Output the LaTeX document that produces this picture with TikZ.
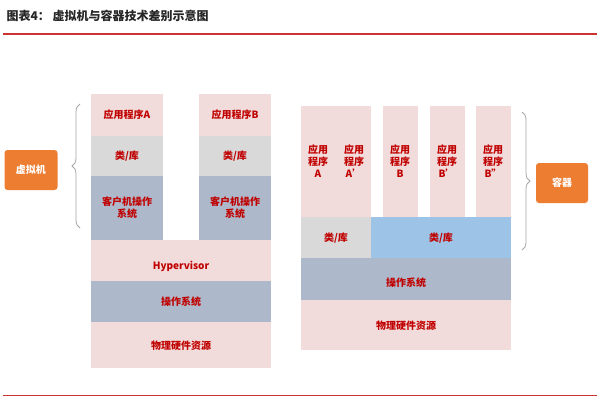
\documentclass[tikz,border=0pt]{standalone}
\usepackage{fontspec}
\setmainfont{Noto Sans CJK SC}
\usetikzlibrary{decorations.pathreplacing}
\definecolor{pk}{HTML}{F2DCDB}
\definecolor{gy}{HTML}{D9D9D9}
\definecolor{bg}{HTML}{ADB9CA}
\definecolor{lb}{HTML}{9DC3E6}
\definecolor{rd}{HTML}{C00000}
\definecolor{og}{HTML}{ED7D31}
\begin{document}
\begin{tikzpicture}[x=1pt,y=-1pt,
 blk/.style={font=\fontsize{10}{12}\selectfont\bfseries,text=rd,inner sep=0pt,align=center},
 br/.style={draw=gray!70,line width=0.8pt,decorate,decoration={brace,amplitude=8pt}}]
\useasboundingbox[fill=white] (0,0) rectangle (600,400);
\node[anchor=west,font=\fontsize{12}{14}\selectfont\bfseries,text=black!85] (title) at (3,16) {图表4：\ 虚拟机与容器技术差别示意图};
\draw[rd!80,line width=1.2pt] (3,34) coordinate (t1) -- (597,34) coordinate (t2);
\draw[rd!80,line width=0.8pt] (3,395) coordinate (b1) -- (597,395) coordinate (b2);
% left
\fill[pk] (91,94) rectangle (163,136); \node[blk] (aA) at (127,115) {应用程序A};
\fill[gy] (91,136) rectangle (163,176); \node[blk] (lA) at (127,156) {类/库};
\fill[bg] (91,176) rectangle (163,240); \node[blk] (gA) at (127,208) {客户机操作\\系统};
\fill[pk] (199,94) rectangle (271,136); \node[blk] (aB) at (235,115) {应用程序B};
\fill[gy] (199,136) rectangle (271,176); \node[blk] (lB) at (235,156) {类/库};
\fill[bg] (199,176) rectangle (271,240); \node[blk] (gB) at (235,208) {客户机操作\\系统};
\fill[pk] (91,240) rectangle (271,281); \node[blk] (hv) at (181,266) {Hypervisor};
\fill[bg] (91,281) rectangle (271,322); \node[blk] (os1) at (181,302) {操作系统};
\fill[pk] (91,322) rectangle (271,368); \node[blk] (hw1) at (181,346) {物理硬件资源};
\draw[br] (80,228) coordinate (lb1) -- (80,104) coordinate (lb2);
\node[fill=og,rounded corners=3pt,minimum width=53pt,minimum height=40pt,text=white,font=\fontsize{10}{12}\selectfont\bfseries] (vm) at (31,170) {虚拟机};
% right
\fill[pk] (301,106) rectangle (371,217);
\node[blk] (rA) at (318,161) {应用\\程序\\A};
\node[blk] (rA2) at (354,161) {应用\\程序\\A'};
\fill[pk] (383,106) rectangle (418,217); \node[blk] (rB) at (400,161) {应用\\程序\\B};
\fill[pk] (430,106) rectangle (465,217); \node[blk] (rB2) at (447,161) {应用\\程序\\B'};
\fill[pk] (476,106) rectangle (511,217); \node[blk] (rB3) at (493,161) {应用\\程序\\B''};
\fill[gy] (301,217) rectangle (371,258); \node[blk] (rl1) at (336,238) {类/库};
\fill[lb] (371,217) rectangle (511,258); \node[blk] (rl2) at (441,238) {类/库};
\fill[bg] (301,258) rectangle (511,300); \node[blk] (os2) at (406,283) {操作系统};
\fill[pk] (301,300) rectangle (511,350); \node[blk] (hw2) at (406,326) {物理硬件资源};
\draw[br] (522,112) coordinate (rb1) -- (522,250) coordinate (rb2);
\node[fill=og,rounded corners=3pt,minimum width=52pt,minimum height=40pt,text=white,font=\fontsize{10}{12}\selectfont\bfseries] (ct) at (562,183) {容器};
\end{tikzpicture}
\end{document}
